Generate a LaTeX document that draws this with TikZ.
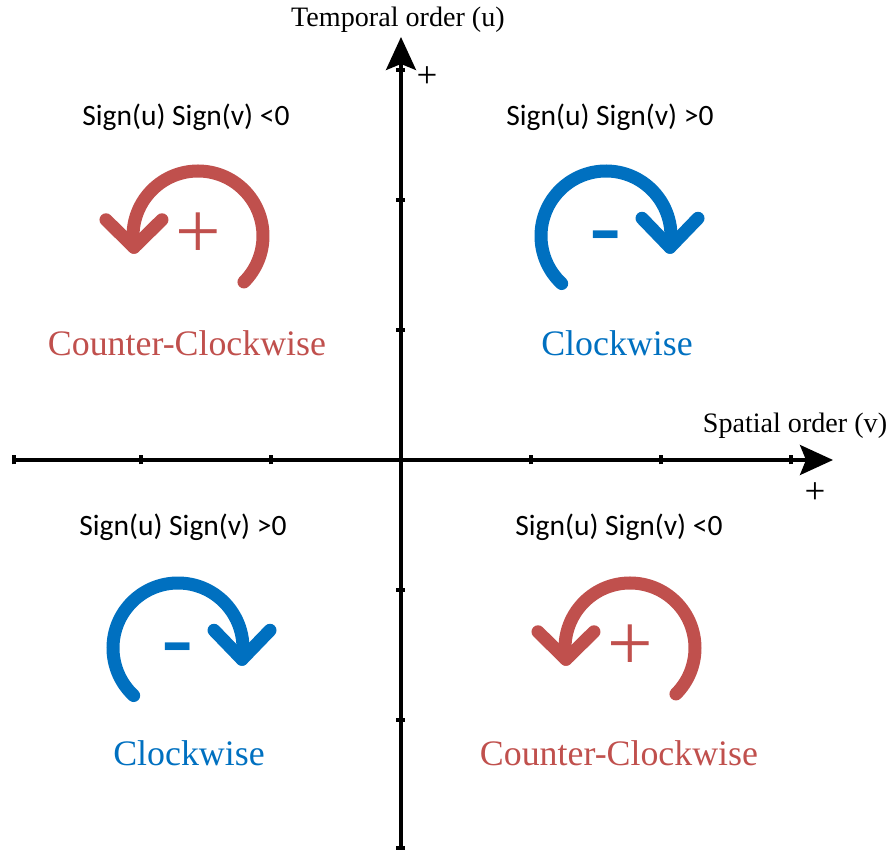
\documentclass[tikz,border=0pt]{standalone}
\usepackage{fontspec}
\setmainfont{Liberation Serif}
\newfontfamily\signfont{Carlito}
\usetikzlibrary{arrows.meta}
\definecolor{cwBlue}{RGB}{0,112,192}
\definecolor{ccwRed}{RGB}{192,80,77}

\begin{document}
\begin{tikzpicture}[
    axis/.style={line width=1.9pt,-{Stealth[length=6.6mm,width=6mm,inset=1.2mm]}},
    tickmark/.style={line width=1.9pt},
    rotarc/.style={line width=7.4pt,line cap=round,line join=round},
    signlabel/.style={font=\signfont\fontsize{16.8}{20}\selectfont},
    rotlabel/.style={font=\fontsize{20.4}{24}\selectfont},
    axislabel/.style={font=\fontsize{16}{19}\selectfont},
    axisplus/.style={font=\fontsize{21}{24}\selectfont,inner sep=0pt},
    plussign/.style={font=\fontsize{46}{50}\selectfont,inner sep=0pt},
    minussign/.style={font=\signfont\fontsize{60}{64}\selectfont,inner sep=0pt,yshift=-0.24cm},
  ]
  \useasboundingbox (-8.02,-7.8) rectangle (9.84,9.2);
  % Axes
  \draw[axis] (-7.74,0) -- (8.64,0);
  \draw[axis] (0,-7.76) -- (0,8.46);
  \foreach \t in {-7.74,-5.2,-2.6,2.6,5.2,7.8}
    \draw[tickmark] (\t,-0.09) -- (\t,0.09);
  \foreach \t in {-7.76,-5.2,-2.6,2.6,5.2,7.8}
    \draw[tickmark] (-0.09,\t) -- (0.09,\t);
  \node[axislabel] (ulab) at (-0.06,8.8) {Temporal order (u)};
  \node[axislabel] (vlab) at (7.88,0.68) {Spatial order (v)};
  \node[axisplus] (uplus) at (0.52,7.66) {+};
  \node[axisplus] (vplus) at (8.28,-0.66) {+};
  % Quadrant conditions
  \node[signlabel] (tlsign) at (-4.30,6.86) {Sign(u) Sign(v) <0};
  \node[signlabel] (trsign) at (4.18,6.86) {Sign(u) Sign(v) >0};
  \node[signlabel] (blsign) at (-4.36,-1.34) {Sign(u) Sign(v) >0};
  \node[signlabel] (brsign) at (4.36,-1.34) {Sign(u) Sign(v) <0};
  % Rotation centres
  \coordinate (tl) at (-4.06,4.48);
  \coordinate (tr) at (4.10,4.48);
  \coordinate (bl) at (-4.46,-3.76);
  \coordinate (br) at (4.58,-3.76);
  % Counter-clockwise, top left
  \draw[rotarc,ccwRed] ([shift={(-45:1.3)}]tl) arc[start angle=-45,end angle=190,radius=1.3] coordinate (tltip);
  \draw[rotarc,ccwRed] ([shift={(-0.56,0.55)}]tltip) -- (tltip) -- ([shift={(0.56,0.55)}]tltip);
  \node[plussign,ccwRed] (tlplus) at (tl) {+};
  \node[rotlabel,ccwRed] (tlrot) at (-4.28,2.34) {Counter-Clockwise};
  % Clockwise, top right
  \draw[rotarc,cwBlue] ([shift={(227:1.3)}]tr) arc[start angle=227,end angle=-10,radius=1.3] coordinate (trtip);
  \draw[rotarc,cwBlue] ([shift={(-0.56,0.58)}]trtip) -- (trtip) -- ([shift={(0.56,0.58)}]trtip);
  \node[minussign,cwBlue] (trminus) at (tr) {-};
  \node[rotlabel,cwBlue] (trrot) at (4.32,2.34) {Clockwise};
  % Clockwise, bottom left
  \draw[rotarc,cwBlue] ([shift={(227:1.3)}]bl) arc[start angle=227,end angle=-10,radius=1.3] coordinate (bltip);
  \draw[rotarc,cwBlue] ([shift={(-0.56,0.58)}]bltip) -- (bltip) -- ([shift={(0.56,0.58)}]bltip);
  \node[minussign,cwBlue] (blminus) at (bl) {-};
  \node[rotlabel,cwBlue] (blrot) at (-4.24,-5.86) {Clockwise};
  % Counter-clockwise, bottom right
  \draw[rotarc,ccwRed] ([shift={(-45:1.3)}]br) arc[start angle=-45,end angle=190,radius=1.3] coordinate (brtip);
  \draw[rotarc,ccwRed] ([shift={(-0.56,0.55)}]brtip) -- (brtip) -- ([shift={(0.56,0.55)}]brtip);
  \node[plussign,ccwRed] (brplus) at (br) {+};
  \node[rotlabel,ccwRed] (brrot) at (4.36,-5.86) {Counter-Clockwise};
\end{tikzpicture}
\end{document}
